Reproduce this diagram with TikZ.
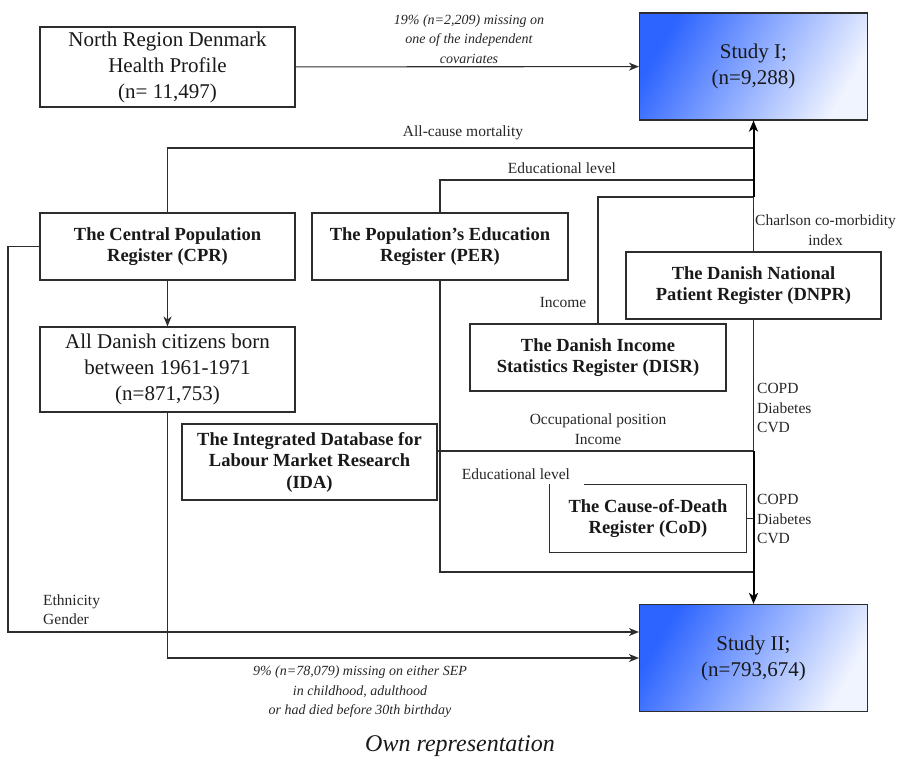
\documentclass[tikz,border=0pt]{standalone}
\usepackage{fontspec}
\setmainfont{Liberation Serif}
\usetikzlibrary{arrows.meta}
\definecolor{ln}{RGB}{45,45,45}
\definecolor{deepblue}{RGB}{45,100,255}
\definecolor{paleblue}{RGB}{240,244,255}
\tikzset{
  box/.style={draw=ln, line width=1.1pt, fill=white, align=center, inner sep=2pt, text=black!90},
  regbox/.style={box, font=\fontsize{18.5}{21.5}\selectfont\bfseries},
  bigbox/.style={box, font=\fontsize{21}{26}\selectfont},
  studybox/.style={draw=ln, line width=1.1pt, left color=deepblue, right color=paleblue, shading angle=60, align=center, font=\fontsize{21}{26}\selectfont, text=black!90},
  conn/.style={draw=ln, line width=1.1pt},
  arr/.style={conn, -{Stealth[length=10pt,width=8pt,inset=3pt]}},
  mainarr/.style={draw=black, line width=2pt, -{Stealth[length=11pt,width=9pt,inset=3pt]}},
  lbl/.style={font=\fontsize{15.5}{19.5}\selectfont, align=center, text=black!85, inner sep=1pt},
  ilbl/.style={font=\fontsize{14}{19.5}\selectfont\itshape, align=center, text=black!85, inner sep=1pt},
}
\begin{document}
\begin{tikzpicture}[x=1pt,y=-1pt]
\useasboundingbox (0,0) rectangle (907,764);
% boxes
\node[bigbox, minimum width=255pt, minimum height=80pt] (nr) at (167.5,67) {North Region Denmark\\Health Profile\\(n= 11,497)};
\node[studybox, minimum width=228pt, minimum height=107pt] (s1) at (753.5,66.5) {Study I;\\(n=9,288)};
\node[studybox, minimum width=228pt, minimum height=107pt] (s2) at (753.5,658) {Study II;\\(n=793,674)};
\node[regbox, minimum width=255pt, minimum height=67pt] (cpr) at (167.5,246.5) {The Central Population\\Register (CPR)};
\node[regbox, minimum width=256pt, minimum height=67pt] (per) at (440,246.5) {The Population’s Education\\Register (PER)};
\node[regbox, minimum width=255pt, minimum height=67pt] (dnpr) at (753.5,285.5) {The Danish National\\Patient Register (DNPR)};
\node[regbox, minimum width=256pt, minimum height=67pt] (disr) at (598,357.5) {The Danish Income\\Statistics Register (DISR)};
\node[bigbox, minimum width=255pt, minimum height=85pt] (born) at (167.5,369.5) {All Danish citizens born\\between 1961-1971\\(n=871,753)};
\node[regbox, minimum width=255pt, minimum height=76pt] (ida) at (309.5,462) {The Integrated Database for\\Labour Market Research\\(IDA)};
\node[regbox, draw=none, minimum width=196pt, minimum height=67pt] (cod) at (648,518.5) {The Cause-of-Death\\Register (CoD)};
\draw[conn] ([xshift=35pt]cod.north west) -- (cod.north east) -- (cod.south east) -- (cod.south west) -- (cod.north west);

% junctions on the main vertical
\coordinate (jA) at (753.5,148);
\coordinate (jB) at (753.5,180);
\coordinate (jC) at (753.5,197);
\coordinate (jD) at (753.5,451);
\coordinate (jE) at (753.5,518.5);
\coordinate (jF) at (753.5,572);
\coordinate (cl) at (8,246.5);

% into Study I
\draw[arr] (nr) -- (s1);
\draw[conn] (cpr.north) |- (jA);
\draw[conn] (per.north) |- (jB);
\draw[conn] (disr.north) |- (jC);
\draw[conn] (dnpr.north) -- (jC);
\draw[mainarr] (jC) -- (s1.south);

% into Study II
\draw[arr] (cpr) -- (born);
\draw[arr] (cpr.west) -- (cl) |- ([yshift=26pt]s2.west);
\draw[arr] (born.south) |- (s2.west);
\draw[conn] (per.south) |- (jF);
\draw[conn] (ida.east |- jD) -- (jD);
\draw[conn] (cod.east) -- (jE);
\draw[conn] (dnpr.south) -- (jD);
\draw[mainarr] (jD) -- (s2.north);

% labels
\node[ilbl] (l1) at (469,39) {19\% (n=2,209) missing on\\one of the independent\\covariates};
\node[lbl] (l2) at (463,133) {All-cause mortality};
\node[lbl] (l3) at (562,168) {Educational level};
\node[lbl] (l4) at (563,302) {Income};
\node[lbl, anchor=west] (l5) at (754,230) {Charlson co-morbidity\\index};
\node[lbl] (l6) at (598,429) {Occupational position\\Income};
\node[lbl, fill=white, inner sep=3pt] (l7) at (516,474) {Educational level};
\node[lbl, align=left, anchor=west] (l8) at (756,408) {COPD\\Diabetes\\CVD};
\node[lbl, align=left, anchor=west] (l9) at (756,519) {COPD\\Diabetes\\CVD};
\node[lbl, align=left, anchor=west] (l10) at (42,609.5) {Ethnicity\\Gender};
\node[ilbl] (l11) at (360,692) {9\% (n=78,079) missing on either SEP\\in childhood, adulthood\\or had died before 30th birthday};
\node[font=\fontsize{24}{28}\selectfont\itshape, text=black!90] (cap) at (460,746) {Own representation};
\end{tikzpicture}
\end{document}
